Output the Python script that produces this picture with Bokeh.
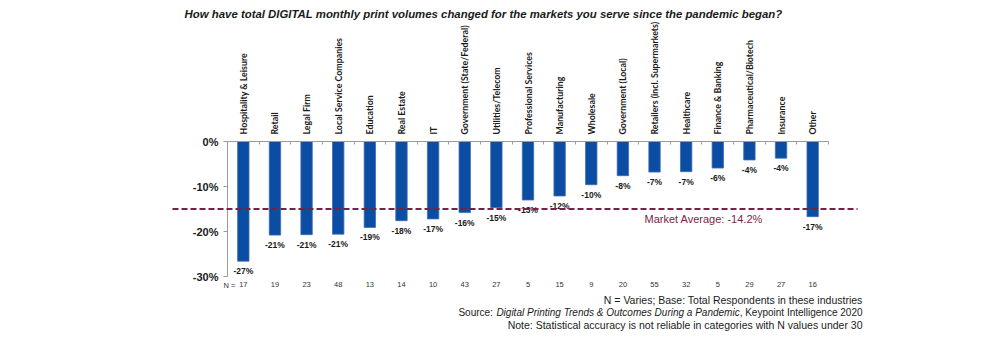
from bokeh.plotting import figure
from bokeh.models import (Range1d, LinearAxis, FixedTicker, Label, Arrow,
                          PrintfTickFormatter, ColumnDataSource)
from bokeh.core.properties import value
from bokeh.embed import file_html
from bokeh.resources import INLINE
import numpy as np

# ---------------- data ----------------
categories = ["Hospitality & Leisure", "Retail", "Legal Firm", "Local Service Companies",
              "Education", "Real Estate", "IT", "Government (State/Federal)",
              "Utilities/Telecom", "Professional Services", "Manufacturing", "Wholesale",
              "Government (Local)", "Retailers (incl. Supermarkets)", "Healthcare",
              "Finance & Banking", "Pharmaceutical/Biotech", "Insurance", "Other"]
change_pct = [-26.6, -20.8, -20.7, -20.6, -19.1, -17.6, -17.2, -15.8, -14.7, -13.0,
              -12.1, -9.6, -7.6, -6.8, -6.7, -5.9, -4.1, -3.7, -16.7]
n_values = [17, 19, 23, 48, 13, 14, 10, 43, 27, 5, 15, 9, 20, 55, 32, 5, 29, 27, 16]
y_ticks = [0, -10, -20, -30]
market_avg_text = "-14.2%"
market_avg_line = -15.0

title_text = "How have total DIGITAL monthly print volumes changed for the markets you serve since the pandemic began?"
foot1 = "N = Varies; Base: Total Respondents in these industries"
foot2a = "Source: "
foot2b = "Digital Printing Trends & Outcomes During a Pandemic"
foot2c = ", Keypoint Intelligence 2020"
foot3 = "Note: Statistical accuracy is not reliable in categories with N values under 30"

# ---------------- layout ----------------
W, H = 1000, 339
# pixel positions of the value axes: x 0..ncat spans L..R, y 0..-30 spans T..B
L, R, T, B = 227, 828, 141, 276
ncat = len(categories)
y_top_val, y_bot_val = 0, -30

def px_x(px):
    return (px - L) * ncat / (R - L)

def px_y(py):
    return y_top_val - (py - T) * (y_top_val - y_bot_val) / (B - T)

# approximate Arial/Liberation Sans advance widths (per 1000 em) to chain text pieces
_W = {" ": 278, ",": 278, ".": 278, ":": 278, ";": 278, "&": 667, "-": 333, "/": 278,
      "(": 333, ")": 333, "0": 556, "1": 556, "2": 556, "3": 556, "4": 556, "5": 556,
      "6": 556, "7": 556, "8": 556, "9": 556,
      "a": 556, "b": 556, "c": 500, "d": 556, "e": 556, "f": 278, "g": 556, "h": 556,
      "i": 222, "j": 222, "k": 500, "l": 222, "m": 833, "n": 556, "o": 556, "p": 556,
      "q": 556, "r": 333, "s": 500, "t": 278, "u": 556, "v": 500, "w": 722, "x": 500,
      "y": 500, "z": 500,
      "A": 667, "B": 667, "C": 722, "D": 722, "E": 667, "F": 611, "G": 778, "H": 722,
      "I": 278, "J": 500, "K": 667, "L": 556, "M": 833, "N": 722, "O": 778, "P": 667,
      "Q": 778, "R": 722, "S": 667, "T": 611, "U": 722, "V": 667, "W": 944, "X": 667,
      "Y": 667, "Z": 611}

def text_w(s, size):
    return sum(_W.get(ch, 556) for ch in s) * size / 1000.0

BAR = "#0A4DA2"
MAROON = "#7A1F45"
GRAY = "#9A9A9A"
FONT = "Liberation Sans"

p = figure(width=W, height=H, output_backend="svg", toolbar_location=None,
           x_range=Range1d(px_x(0), px_x(W)), y_range=Range1d(px_y(H), px_y(0)),
           x_axis_location=None, y_axis_location=None, min_border=0)
p.outline_line_color = None
p.xgrid.visible = False
p.ygrid.visible = False
p.background_fill_color = "white"
p.border_fill_color = "white"

centers = list(np.arange(ncat) + 0.5)
bounds = list(np.arange(1, ncat + 1).astype(float))

# y axis (fixed at x = 0)
yax = LinearAxis(ticker=FixedTicker(ticks=y_ticks), formatter=PrintfTickFormatter(format="%d%%"),
                 fixed_location=0, bounds=(min(y_ticks), max(y_ticks)))
yax.axis_line_color = GRAY
yax.major_tick_line_color = GRAY
yax.major_tick_in = 0
yax.major_tick_out = 4
yax.minor_tick_line_color = None
yax.major_label_text_font = FONT
yax.major_label_text_font_style = "bold"
yax.major_label_text_font_size = "11px"
yax.major_label_text_color = "#1a1a1a"
yax.major_label_standoff = 5
p.add_layout(yax, "left")

# category axis above (zero line)
cax = LinearAxis(ticker=FixedTicker(ticks=centers, minor_ticks=bounds),
                 fixed_location=0, bounds=(0, ncat))
cax.major_label_overrides = {c: name for c, name in zip(centers, categories)}
cax.major_label_orientation = "vertical"
cax.axis_line_color = GRAY
cax.major_tick_line_color = None
cax.major_tick_in = 0
cax.major_tick_out = 0
cax.minor_tick_line_color = GRAY
cax.minor_tick_in = 3
cax.minor_tick_out = 0
cax.major_label_standoff = 7
cax.major_label_text_font = "Lato"
cax.major_label_text_font_style = "bold"
cax.major_label_text_font_size = "8.8px"
cax.major_label_text_color = "#1a1a1a"
p.add_layout(cax, "above")

# N axis below (at -30)
nax = LinearAxis(ticker=FixedTicker(ticks=centers), fixed_location=min(y_ticks),
                 bounds=(0, ncat))
nax.major_label_overrides = {c: str(n) for c, n in zip(centers, n_values)}
nax.axis_line_color = None
nax.major_tick_line_color = None
nax.minor_tick_line_color = None
nax.major_tick_in = 0
nax.major_tick_out = 0
nax.major_label_standoff = 5
nax.major_label_text_font = FONT
nax.major_label_text_font_size = "7.5px"
nax.major_label_text_color = "#333333"
p.add_layout(nax, "below")

src = ColumnDataSource(dict(x=centers, top=[0] * ncat, bottom=change_pct,
                            lab=[f"{round(v):.0f}%" for v in change_pct]))
p.vbar(x="x", width=0.36, top="top", bottom="bottom", source=src,
       fill_color=BAR, line_color="#3E6DB5", line_width=0.8)
p.text(x="x", y="bottom", text="lab", source=src, y_offset=5,
       text_align="center", text_baseline="top",
       text_font=value(FONT), text_font_style="bold", text_font_size="8.5px",
       text_color="#1a1a1a")

# market average dashed line
p.add_layout(Arrow(end=None, start=None, x_start=px_x(172), x_end=px_x(857),
                   y_start=market_avg_line, y_end=market_avg_line,
                   line_color=MAROON, line_width=2, line_dash="6 3"))
p.add_layout(Label(x=px_x(644), y=px_y(218), text="Market Average: " + market_avg_text,
                   text_align="left", text_baseline="middle", text_font=FONT,
                   text_font_size="11px", text_color=MAROON))

# title
p.add_layout(Label(x=px_x(483), y=px_y(13), text=title_text, text_align="center",
                   text_baseline="middle", text_font=FONT, text_font_style="bold italic",
                   text_font_size="11.4px", text_color="#1a1a1a"))

# N = prefix
p.add_layout(Label(x=px_x(235), y=px_y(285), text="N =", text_align="right",
                   text_baseline="middle", text_font=FONT, text_font_size="7.5px",
                   text_color="#333333"))

# footer
RIGHT = 862
fkw = dict(text_baseline="middle", text_font=FONT, text_color="#1a1a1a", text_align="right")
p.add_layout(Label(x=px_x(RIGHT), y=px_y(299), text=foot1, text_font_size="10.5px", **fkw))
src_size = 10
x_c = RIGHT
x_b = x_c - text_w(foot2c, src_size)
x_a = x_b - text_w(foot2b, src_size)
p.add_layout(Label(x=px_x(x_c), y=px_y(311.5), text=foot2c, text_font_size=f"{src_size}px", **fkw))
p.add_layout(Label(x=px_x(x_b), y=px_y(311.5), text=foot2b, text_font_size=f"{src_size}px",
                   text_font_style="italic", **fkw))
p.add_layout(Label(x=px_x(x_a), y=px_y(311.5), text=foot2a, text_font_size=f"{src_size}px", **fkw))
p.add_layout(Label(x=px_x(RIGHT), y=px_y(324), text=foot3, text_font_size="10.5px", **fkw))

open("out.html", "w").write(file_html(p, INLINE))
